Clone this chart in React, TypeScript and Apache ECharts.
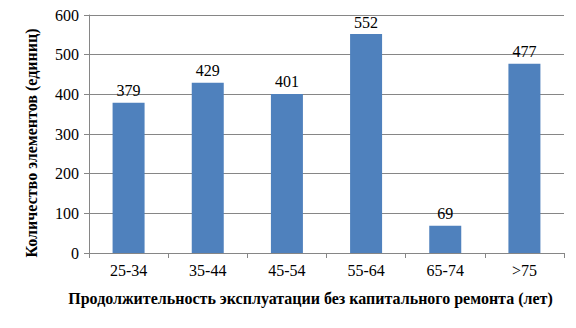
import React, { useEffect, useRef } from "react";
import * as echarts from "echarts";

const categories = ["25-34", "35-44", "45-54", "55-64", "65-74", ">75"];
const values = [379, 429, 401, 552, 69, 477];
const xTitle = "Продолжительность эксплуатации без капитального ремонта (лет)";
const yTitle = "Количество элементов (единиц)";

export default function App() {
  const ref = useRef<HTMLDivElement>(null);
  useEffect(() => {
    const chart = echarts.init(ref.current!, null, { renderer: "svg" });
    const font = "Liberation Serif";
    chart.setOption({
      animation: false,
      textStyle: { fontFamily: font },
      grid: { left: 89, right: 12, top: 15, bottom: 75 },
      xAxis: {
        type: "category",
        data: categories,
        name: xTitle,
        nameLocation: "middle",
        nameGap: 37,
        nameTextStyle: { fontFamily: font, fontSize: 16, fontWeight: "bold", color: "#000", padding: [0, 32, 0, 0] },
        axisLine: { lineStyle: { color: "#868686" } },
        axisTick: { show: true, length: 5, lineStyle: { color: "#868686" } },
        axisLabel: { fontFamily: font, fontSize: 16, color: "#000", margin: 9 },
      },
      yAxis: {
        type: "value",
        min: 0,
        max: 600,
        interval: 100,
        name: yTitle,
        nameLocation: "middle",
        nameGap: 50,
        nameTextStyle: { fontFamily: font, fontSize: 16, fontWeight: "bold", color: "#000", padding: [0, 18, 0, 0] },
        axisLine: { show: true, lineStyle: { color: "#868686" } },
        axisTick: { show: true, length: 5, lineStyle: { color: "#868686" } },
        axisLabel: { fontFamily: font, fontSize: 16, color: "#000", margin: 10 },
        splitLine: { lineStyle: { color: "#868686" } },
      },
      series: [
        {
          type: "bar",
          data: values,
          barWidth: 32,
          itemStyle: { color: "#4F81BD" },
          label: {
            show: true,
            position: "top",
            distance: 4,
            fontFamily: font,
            fontSize: 16,
            color: "#000",
          },
        },
      ],
    });
    return () => chart.dispose();
  }, []);
  return <div ref={ref} style={{ width: 576, height: 328, position: "absolute", left: 0, top: 0 }} />;
}
